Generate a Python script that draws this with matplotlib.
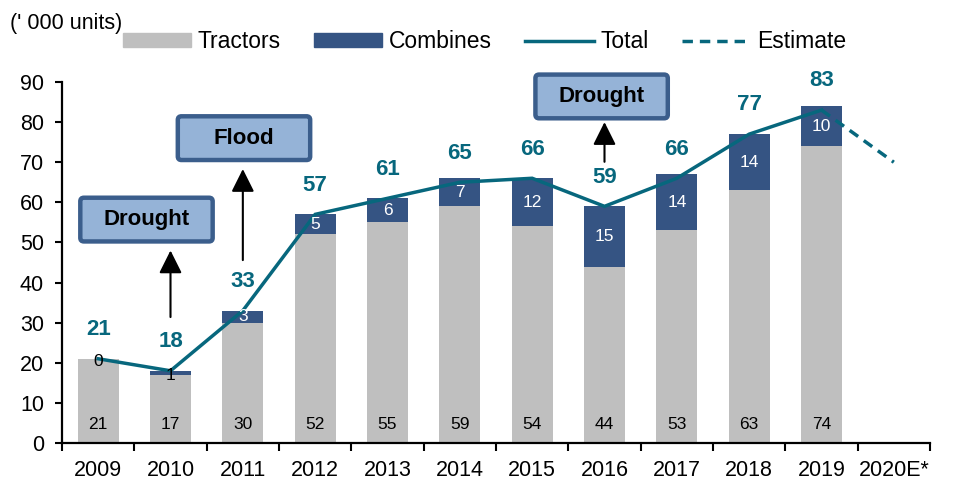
import matplotlib
matplotlib.use("Agg")
import matplotlib.pyplot as plt
from matplotlib.patches import Patch, FancyBboxPatch
from matplotlib.lines import Line2D
import numpy as np

plt.rcParams['font.family'] = ['Liberation Sans', 'DejaVu Sans']

years = ['2009', '2010', '2011', '2012', '2013', '2014', '2015', '2016', '2017', '2018', '2019', '2020E*']
tractors = [21, 17, 30, 52, 55, 59, 54, 44, 53, 63, 74]
combines = [0, 1, 3, 5, 6, 7, 12, 15, 14, 14, 10]
totals = [21, 18, 33, 57, 61, 65, 66, 59, 66, 77, 83]
estimate_x = ['2019', '2020E*']
estimate = [83, 70]

events = ['Drought', 'Flood', 'Drought']
event_year = ['2010', '2011', '2016']

C_TR = '#BFBFBF'
C_CB = '#355483'
C_LINE = '#07677D'
C_BOXF = '#95B3D7'
C_BOXE = '#3B5E8C'

FS = 15.5

fig = plt.figure(figsize=(9.59, 4.82), dpi=100)
ax = fig.add_axes([62/959, 39/482, 868/959, 361/482])

n = len(years)
x = np.arange(len(tractors))
w = 0.57
ax.bar(x, tractors, w, color=C_TR, zorder=2)
ax.bar(x, combines, w, bottom=tractors, color=C_CB, zorder=2)

ax.plot(x, totals, color=C_LINE, lw=2.5, zorder=4, solid_joinstyle='miter')
ex = [years.index(v) for v in estimate_x]
ax.plot(ex, estimate, color=C_LINE, lw=2.5, ls=(0, (3.0, 2.0)), zorder=4)

for i in x:
    ax.text(i, 4.5, str(tractors[i]), ha='center', va='center', fontsize=12.5, color='black', zorder=5)
    cb = combines[i]
    col = 'black' if cb <= 1 else 'white'
    ax.text(i, tractors[i] + cb / 2 - (0.6 if cb <= 1 else 0), str(cb), ha='center', va='center',
            fontsize=12.5, color=col, zorder=5)
    ax.annotate(str(totals[i]), (i, totals[i]), xytext=(0, 21), textcoords='offset points',
                ha='center', va='center', fontsize=16, fontweight='bold', color=C_LINE, zorder=6)

ax.set_xlim(-0.5, n - 0.5)
ax.set_ylim(0, 90)
ax.set_yticks(range(0, 91, 10))
ax.set_xticks(np.arange(-0.5, n, 1.0))
ax.set_xticklabels([])
ax.set_xticks(np.arange(n), minor=True)
ax.set_xticklabels(years, minor=True)
ax.tick_params(axis='x', which='minor', length=0, pad=12, labelsize=FS)
ax.tick_params(axis='x', which='major', length=6, width=1.5, direction='out')
ax.tick_params(axis='y', length=5, width=1.5, direction='out', labelsize=FS, pad=8)
for s in ['top', 'right']:
    ax.spines[s].set_visible(False)
for s in ['left', 'bottom']:
    ax.spines[s].set_linewidth(1.6)
ax.set_axisbelow(False)

# annotation boxes and arrows
box_pos = [(0.668, 55.7), (2.016, 76.0), (6.96, 86.4)]
arrow_pos = [(31.4, 48.0), (45.6, 68.3), (70.1, 80.0)]
bw, bh = 1.83, 10.9
for lab, yr, (bx, by), (ty, hy) in zip(events, event_year, box_pos, arrow_pos):
    p = FancyBboxPatch((bx - bw / 2, by - bh / 2), bw, bh,
                       boxstyle='round,pad=0,rounding_size=0.05', mutation_aspect=18,
                       fc=C_BOXF, ec=C_BOXE, lw=3.2, zorder=7, clip_on=False)
    ax.add_patch(p)
    ax.text(bx, by, lab, ha='center', va='center', fontsize=16, fontweight='bold',
            color='black', zorder=8)
    xi = years.index(yr)
    ax.annotate('', xy=(xi, hy), xytext=(xi, ty),
                arrowprops=dict(arrowstyle='-|>,head_length=0.7,head_width=0.35', color='black',
                                lw=1.5, mutation_scale=20, shrinkA=0, shrinkB=0), zorder=7)

fig.text(10/959, 1 - 24/482, "(' 000 units)", fontsize=FS, ha='left', va='center')

LFS = 16.5
handles = [Patch(color=C_TR), Patch(color=C_CB),
           Line2D([], [], color=C_LINE, lw=2.5),
           Line2D([], [], color=C_LINE, lw=2.5, ls=(0, (3.0, 2.0)))]
fig.legend(handles, ['Tractors', 'Combines', 'Total', 'Estimate'], ncol=4,
           loc='center left', bbox_to_anchor=(123/959, 1 - 42/482), frameon=False,
           fontsize=LFS, handlelength=2.97, handleheight=0.57, handletextpad=0.3,
           columnspacing=1.45, borderpad=0, borderaxespad=0)

fig.savefig('out.png', dpi=100)
